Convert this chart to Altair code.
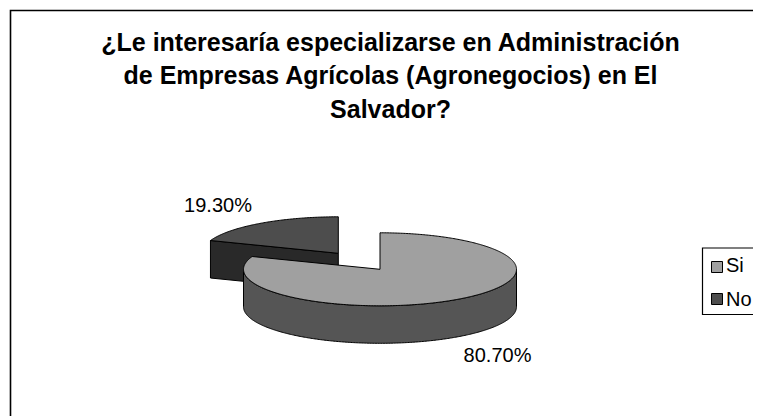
import numpy as np
import pandas as pd
import altair as alt

categories = ["Si", "No"]
shares = [80.70, 19.30]
share_labels = ["80.70%", "19.30%"]
title_lines = [
    "¿Le interesaría especializarse en Administración",
    "de Empresas Agrícolas (Agronegocios) en El",
    "Salvador?",
]
FONT = "Liberation Sans"
RX, RY, DEPTH = 136.5, 36.5, 37.5
SI_C = (380.0, 269.3)
NO_C = (338.3, 253.3)
SI_TOP, SI_WALL = "#a0a0a0", "#555555"
NO_TOP, NO_SIDE = "#4d4d4d", "#292929"

X = alt.X("x:Q", axis=None, scale=alt.Scale(domain=[8, 753], nice=False, zero=False))
Y = alt.Y("y:Q", axis=None, scale=alt.Scale(domain=[416, 8], nice=False, zero=False))


def arc(c, a0, a1, dy=0.0):
    t = np.radians(np.linspace(a0, a1, max(2, int(abs(a1 - a0) * 1.5))))
    return [(c[0] + RX * np.sin(v), c[1] - RY * np.cos(v) + dy) for v in t]


def poly(points, fill, sw=1.0):
    pts = list(points) + [points[0]]
    df = pd.DataFrame({"x": [p[0] for p in pts], "y": [p[1] for p in pts], "i": range(len(pts))})
    return alt.Chart(df).mark_line(fill=fill, stroke="black", strokeWidth=sw, interpolate="linear").encode(
        x=X, y=Y, order="i:Q"
    )


def txt(label, x, y, size, bold=False, align="center"):
    df = pd.DataFrame({"x": [x], "y": [y], "t": [label]})
    return alt.Chart(df).mark_text(
        font=FONT, fontSize=size, fontWeight="bold" if bold else "normal",
        color="black", align=align, baseline="middle", clip=True,
    ).encode(x=X, y=Y, text="t:N")


def box(x0, y0, x1, y1, fill, stroke="black", sw=1.0):
    df = pd.DataFrame({"x": [x0], "y": [y0], "x2": [x1], "y2": [y1]})
    return alt.Chart(df).mark_rect(fill=fill, stroke=stroke, strokeWidth=sw, clip=True).encode(
        x=X, y=Y, x2="x2:Q", y2="y2:Q"
    )


split = shares[0] / 100 * 360

layers = [box(10.5, 10.5, 800, 460, "white", sw=1.6)]

# "No" slice: cut face, then top face
no_start = arc(NO_C, split, split)[0]
layers.append(poly([no_start, NO_C, (NO_C[0], NO_C[1] + DEPTH), (no_start[0], no_start[1] + DEPTH)], NO_SIDE))
layers.append(poly([NO_C] + arc(NO_C, split, 360), NO_TOP))

# "Si" slice: outer wall, then top face
layers.append(poly(arc(SI_C, 90, 270) + arc(SI_C, 270, 90, DEPTH), SI_WALL))
layers.append(poly([SI_C] + arc(SI_C, 0, split), SI_TOP))

# Data labels
layers.append(txt(share_labels[1], 218, 206, 20))
layers.append(txt(share_labels[0], 497.5, 356, 20))

# Title
for line, yy in zip(title_lines, [42.8, 76, 109.5]):
    layers.append(txt(line, 390.5, yy, 25, bold=True))

# Legend
layers.append(box(702.5, 248, 800, 314.5, "white", sw=1.2))
layers.append(box(711.5, 261.5, 722.5, 272.5, SI_TOP))
layers.append(box(711.5, 293.5, 722.5, 304.5, NO_TOP))
layers.append(txt(categories[0], 726, 266.3, 20, align="left"))
layers.append(txt(categories[1], 726, 299.7, 20, align="left"))

chart = alt.layer(*layers).properties(
    width=745, height=408, padding=0, autosize=alt.AutoSizeParams(type="none"),
    background="white",
).configure_view(stroke=None)

chart.save("out.html", embed_options={"renderer": "svg", "actions": False})
